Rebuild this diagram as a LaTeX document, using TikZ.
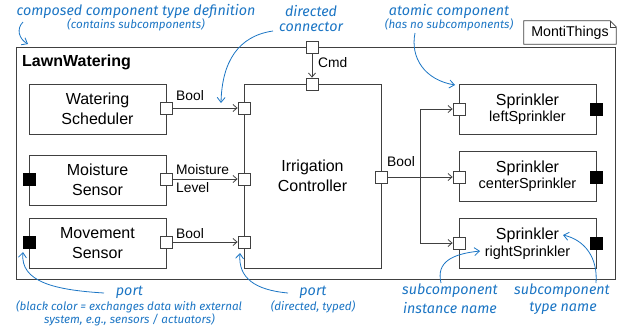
\documentclass[tikz,border=0pt]{standalone}
\usepackage{fontspec}
\setmainfont{Liberation Sans}
\newfontfamily\annfont{Fira Sans}
\usetikzlibrary{arrows.meta}
\definecolor{ann}{HTML}{1B75C4}
\definecolor{ln}{HTML}{404040}
\begin{document}
\begin{tikzpicture}[x=1pt,y=-1pt,
 comp/.style={draw=ln, line width=0.9pt, minimum width=137pt, minimum height=50pt, inner sep=0pt, align=center, font=\fontsize{16}{19.5}\selectfont},
 port/.style={draw=ln, fill=white, line width=0.8pt, minimum size=12pt, inner sep=0pt},
 bport/.style={port, fill=black, draw=black},
 conn/.style={draw=ln, line width=0.8pt, -{Straight Barb[length=4pt,width=7pt]}},
 lbl/.style={font=\fontsize{13.8}{18}\selectfont, inner sep=0pt, anchor=west, align=left},
 anntext/.style={text=ann, font=\annfont\itshape\fontsize{14.3}{16}\selectfont, inner sep=0pt},
 annsmall/.style={text=ann, font=\annfont\itshape\fontsize{11.6}{13}\selectfont, inner sep=0pt},
 annarrow/.style={draw=ann, line width=0.8pt, -{Straight Barb[length=5pt,width=8pt]}},
]
\useasboundingbox (0,0) rectangle (621,327);

% outer component
\node[draw=ln, line width=0.9pt, minimum width=599pt, minimum height=232pt, inner sep=0pt] (outer) at (315.5,163) {};
\node[font=\bfseries\fontsize{16}{19}\selectfont, anchor=west, inner sep=0pt] (title) at (22,62) {LawnWatering};

% MontiThings note
\node[inner sep=0pt, minimum width=92pt, minimum height=23pt, font=\fontsize{14.2}{17}\selectfont] (monti) at (570,32.5) {MontiThings};
\draw[ln, line width=0.8pt] (monti.south west) -- (monti.north west) -- ([xshift=-6pt]monti.north east) -- ([yshift=-6pt]monti.north east) -- (monti.south east) -- cycle;
\draw[ln, line width=0.6pt] ([xshift=-6pt]monti.north east) -- ([xshift=-6pt,yshift=-6pt]monti.north east) -- ([yshift=-6pt]monti.north east);

% subcomponents
\node[comp] (ws) at (97.5,109) {Watering\\Scheduler};
\node[comp] (ms) at (97.5,180) {Moisture\\Sensor};
\node[comp] (mv) at (97.5,243) {Movement\\Sensor};
\node[comp, minimum height=184pt] (ic) at (312.5,176) {Irrigation\\Controller};
\node[comp] (sp1) at (527.5,109) {Sprinkler\\[-3pt]{\fontsize{14.5}{17}\selectfont leftSprinkler}};
\node[comp] (sp2) at (527.5,176) {Sprinkler\\[-3pt]{\fontsize{14.5}{17}\selectfont centerSprinkler}};
\node[comp] (sp3) at (527.5,243.5) {Sprinkler\\[-3pt]{\fontsize{14.5}{17}\selectfont rightSprinkler}};

% ports
\node[port] (outCmd) at (312,47) {};
\node[port] (wsO) at (166,108) {};
\node[port] (msO) at (166,179) {};
\node[bport] (msB) at (29.5,179) {};
\node[port] (mvO) at (166,242) {};
\node[bport] (mvB) at (29.5,242) {};
\node[port] (icI1) at (244,108) {};
\node[port] (icI2) at (244,179) {};
\node[port] (icI3) at (244,242) {};
\node[port] (icT) at (312,84) {};
\node[port] (icO) at (381,177) {};
\node[port] (sp1I) at (459,109) {};
\node[bport] (sp1B) at (596,109) {};
\node[port] (sp2I) at (459,177) {};
\node[bport] (sp2B) at (596,177) {};
\node[port] (sp3I) at (459,243) {};
\node[bport] (sp3B) at (596,243) {};

% connectors
\draw[conn] (outCmd) -- (icT);
\draw[conn] (wsO) -- (icI1);
\draw[conn] (msO) -- (icI2);
\draw[conn] (mvO) -- (icI3);
\coordinate (split) at (420,177);
\draw[conn] (icO) -- (sp2I);
\draw[conn] (split) |- (sp1I);
\draw[conn] (split) |- (sp3I);

% connector labels
\node[lbl] (l1) at (176,96) {Bool};
\node[lbl] (l2) at (176,179) {Moisture\\Level};
\node[lbl] (l3) at (176,234) {Bool};
\node[lbl] (l4) at (318,63) {Cmd};
\node[lbl] (l5) at (387,162) {Bool};

% annotations
\node[anntext] (a1) at (136,11) {composed component type definition};
\node[annsmall] (a1s) at (136,25) {(contains subcomponents)};
\node[anntext] (a2) at (311,11) {directed};
\node[anntext] (a2b) at (311,27) {connector};
\node[anntext] (a3) at (449,11) {atomic component};
\node[annsmall] (a3s) at (449,25) {(has no subcomponents)};
\node[anntext] (a4) at (129.5,292) {port};
\node[annsmall] (a4s) at (129,307) {(black color = exchanges data with external};
\node[annsmall] (a4t) at (129.5,319.5) {system, e.g., sensors / actuators)};
\node[anntext] (a5) at (313,292) {port};
\node[annsmall] (a5s) at (313,307) {(directed, typed)};
\node[anntext] (a6) at (450,291) {subcomponent};
\node[anntext] (a6b) at (450,308) {instance name};
\node[anntext] (a7) at (562,291) {subcomponent};
\node[anntext] (a7b) at (563,308) {type name};

% annotation arrows
\coordinate (e1) at (28,44);
\draw[annarrow] (23,22) .. controls (16,29) and (19,39) .. (e1);
\coordinate (e2) at (221,103);
\draw[annarrow] (273,31) .. controls (238,36) and (222,62) .. (e2);
\coordinate (e3) at (455,85);
\draw[annarrow] (415,33) .. controls (410,58) and (425,80) .. (e3);
\coordinate (e4) at (23,252);
\draw[annarrow] (104,293) .. controls (55,290) and (20,282) .. (e4);
\coordinate (e5) at (240,253);
\draw[annarrow] (288,293) .. controls (255,290) and (238,278) .. (e5);
\coordinate (e6) at (480,251);
\draw[annarrow] (441,283) .. controls (436,262) and (452,254) .. (e6);
\coordinate (e7) at (563,235);
\draw[annarrow] (596,283) .. controls (598,258) and (585,240) .. (e7);
\end{tikzpicture}
\end{document}
